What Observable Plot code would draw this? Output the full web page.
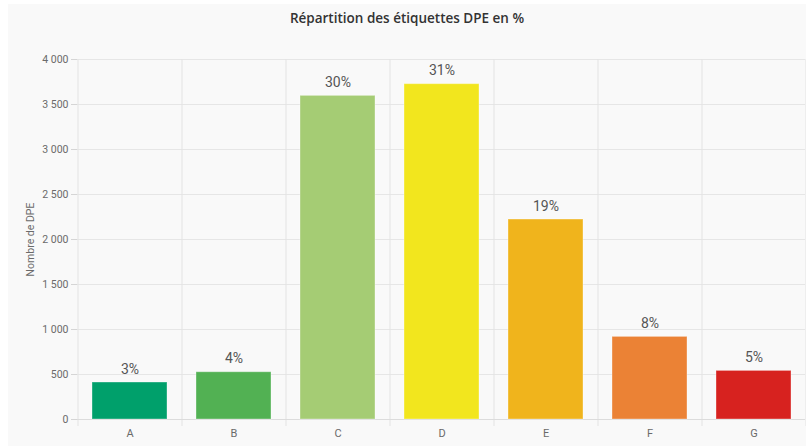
<!DOCTYPE html>
<html>
<head>
<meta charset="utf-8">
<script src="https://cdn.jsdelivr.net/npm/d3@7"></script>
<script src="https://cdn.jsdelivr.net/npm/@observablehq/plot@0.6"></script>
<style>
  html, body { margin: 0; padding: 0; background: #ffffff; }
  #panel { position: absolute; left: 8px; top: 4px; width: 798px; height: 442px; background: #f9f9f9; }
  #title { height: 30px; line-height: 28px; text-align: center; font-family: "Open Sans", sans-serif; font-weight: 600; font-size: 13.5px; color: #333; }
  svg { display: block; }
</style>
</head>
<body>
<div id="panel"><div id="title">Répartition des étiquettes DPE en %</div></div>
<script>
const categories = ["A", "B", "C", "D", "E", "F", "G"];
const counts = [411, 525, 3596, 3726, 2222, 918, 540];
const percents = [3, 4, 30, 31, 19, 8, 5];
const colors = ["#00a06b", "#52b153", "#a5cc74", "#f2e61e", "#f0b41c", "#eb8235", "#d7221f"];
const yTicks = [0, 500, 1000, 1500, 2000, 2500, 3000, 3500, 4000];

const data = categories.map((c, i) => ({cat: c, n: counts[i], pct: percents[i]}));
const fr = d3.formatLocale({decimal: ",", thousands: "\u00a0", grouping: [3], currency: ["", " €"]});
const fmt = fr.format(",d");

const step = 104;
const chart = Plot.plot({
  width: 798,
  height: 412,
  marginTop: 25,
  marginBottom: 27,
  marginLeft: 69,
  marginRight: 1,
  style: {background: "transparent", fontFamily: "Roboto, Arial, sans-serif"},
  x: {domain: categories, paddingInner: 0.28, paddingOuter: 0.14, align: 0.5},
  y: {domain: [0, 4000]},
  color: {domain: categories, range: colors},
  marks: [
    Plot.gridY(yTicks, {stroke: "#e6e6e6", strokeOpacity: 1}),
    Plot.ruleX(categories, {x: d => d, dx: -step / 2, stroke: "#e3e3e3", insetBottom: -7}),
    Plot.ruleX(["G"], {x: d => d, dx: step / 2, stroke: "#e3e3e3", insetBottom: -7}),
    Plot.ruleY([0], {stroke: "#dcdcdc"}),
    Plot.axisY({ticks: yTicks, tickFormat: fmt, tickSize: 6, tickPadding: 3, stroke: "#d5d5d5", fill: "#6a6a6a", fontSize: 10.5,
      label: "Nombre de DPE", labelAnchor: "center", labelArrow: "none", labelOffset: 51}),
    Plot.axisX({tickSize: 0, tickPadding: 10, fill: "#6a6a6a", fontSize: 11, label: null}),
    Plot.barY(data, {x: "cat", y: "n", fill: "cat", stroke: "#ffffff", strokeOpacity: 0.35}),
    Plot.text(data, {x: "cat", y: "n", text: d => d.pct + "%", lineAnchor: "bottom", dy: -9, fontSize: 14, fill: "#555"})
  ]
});
document.getElementById("panel").appendChild(chart);
</script>
</body>
</html>
